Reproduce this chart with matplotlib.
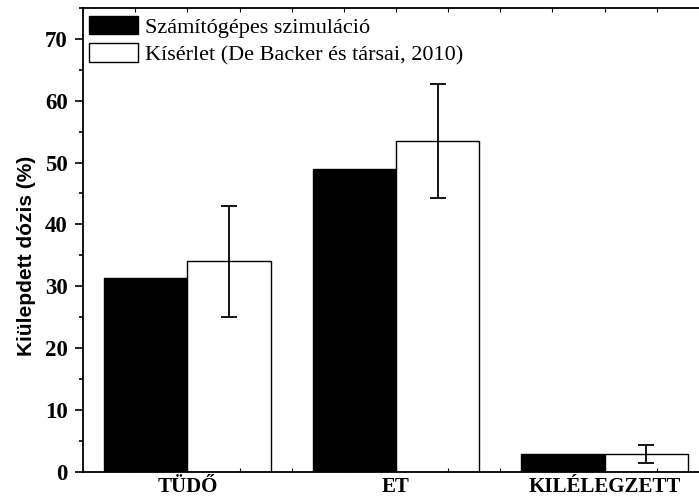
import numpy as np
import matplotlib
matplotlib.use('Agg')
import matplotlib.pyplot as plt
from matplotlib.ticker import MultipleLocator

# data
categories = ['TÜDŐ', 'ET', 'KILÉLEGZETT']
simulation = [31.4, 49.0, 2.9]
experiment = [34.0, 53.5, 2.8]
exp_err_low = [8.9, 9.3, 1.4]
exp_err_high = [9.0, 9.2, 1.5]
labels = ['Számítógépes szimuláció', 'Kísérlet (De Backer és társai, 2010)']

plt.rcParams['font.family'] = ['Liberation Serif', 'DejaVu Serif']

fig = plt.figure(figsize=(6.99, 4.99), dpi=100)
ax = fig.add_axes([83 / 699, (499 - 471.7) / 499, (709 - 83) / 699, (471.7 - 8) / 499])

x = np.arange(1, len(categories) + 1)
w = 0.4
ax.bar(x - w / 2, simulation, w, color='black', edgecolor='black', linewidth=1.0, label=labels[0])
ax.bar(x + w / 2, experiment, w, color='white', edgecolor='black', linewidth=1.0, label=labels[1])
ax.errorbar(x + w / 2, experiment, yerr=[exp_err_low, exp_err_high], fmt='none',
            ecolor='black', elinewidth=1.3, capsize=5.5, capthick=1.3)

ax.set_xlim(0.5, 3.5)
ax.set_ylim(0, 75)
ax.yaxis.set_major_locator(MultipleLocator(10))
ax.yaxis.set_minor_locator(MultipleLocator(5))
ax.set_xticks(x)
ax.set_xticklabels(categories, fontsize=15, fontweight='bold')
ax.xaxis.set_minor_locator(MultipleLocator(0.25))
ax.tick_params(axis='x', which='both', direction='in', length=3, width=0.8, top=True, pad=4)
ax.tick_params(axis='y', which='major', direction='out', length=6, width=1.2, labelsize=16.5, pad=5)
ax.tick_params(axis='y', which='minor', direction='out', length=3, width=1.2)
for t in ax.get_yticklabels():
    t.set_fontweight('bold')

for s in ['left', 'bottom', 'top', 'right']:
    ax.spines[s].set_linewidth(1.3)

ax.set_ylabel('Kiülepdett dózis (%)', fontsize=15, fontweight='bold',
              family=['Liberation Sans', 'DejaVu Sans'])
ax.yaxis.set_label_coords(-0.075, 0.465)

ax.legend(loc='upper left', bbox_to_anchor=(0.0096, 0.983), frameon=False, fontsize=16,
          borderpad=0, borderaxespad=0, handlelength=2.2, handleheight=0.9,
          handletextpad=0.3, labelspacing=0.25)

fig.savefig('out.png', dpi=100)
